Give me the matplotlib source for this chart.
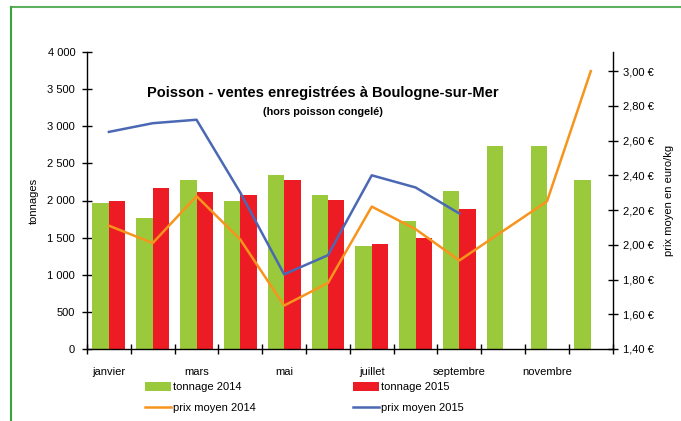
import matplotlib.pyplot as plt
import numpy as np
from matplotlib.ticker import FuncFormatter, FixedLocator

plt.rcParams['font.family'] = ['Liberation Sans', 'DejaVu Sans']
plt.rcParams['font.size'] = 8
plt.rcParams['axes.unicode_minus'] = False

months = ['janvier', 'février', 'mars', 'avril', 'mai', 'juin', 'juillet',
          'août', 'septembre', 'octobre', 'novembre', 'décembre']
tonnage_2014 = [1960, 1770, 2280, 1990, 2350, 2080, 1390, 1720, 2130, 2740, 2740, 2270]
tonnage_2015 = [2000, 2170, 2120, 2070, 2270, 2010, 1420, 1490, 1880]
prix_2014 = [2.11, 2.01, 2.28, 2.03, 1.65, 1.78, 2.22, 2.09, 1.91, 2.08, 2.25, 3.00]
prix_2015 = [2.65, 2.70, 2.72, 2.30, 1.83, 1.94, 2.40, 2.33, 2.18]

c_green = '#9ACA3C'
c_red = '#ED1C24'
c_orange = '#F7941D'
c_blue = '#4A68B4'


def fmt_tonnes(v, pos):
    return f"{int(round(v)):,}".replace(',', '\u00a0')


def fmt_euro(v, pos):
    return f"{v:.2f} €".replace('.', ',')


fig = plt.figure(figsize=(6.81, 4.21), dpi=100)
ax = fig.add_axes([87 / 681, 1 - 349 / 421, (612.7 - 87) / 681, (349 - 52) / 421])

x = np.arange(len(months))
w = 0.375
ax.bar(x - w / 2, tonnage_2014, width=w, color=c_green, label='tonnage 2014', zorder=2)
ax.bar(np.arange(len(tonnage_2015)) + w / 2, tonnage_2015, width=w, color=c_red,
       label='tonnage 2015', zorder=2)

ax.set_xlim(-0.5, len(months) - 0.5)
ax.set_ylim(0, 4000)
ax.set_yticks(np.arange(0, 4001, 500))
ax.yaxis.set_major_formatter(FuncFormatter(fmt_tonnes))
ax.set_ylabel('tonnages', fontsize=8, labelpad=6)

# ticks at month boundaries, labels every other month
ax.xaxis.set_major_locator(FixedLocator(np.arange(-0.5, len(months), 1.0)))
ax.xaxis.set_major_formatter(FuncFormatter(lambda v, p: ''))
ax.xaxis.set_minor_locator(FixedLocator(x[::2]))
ax.set_xticklabels([m for m in months[::2]], minor=True)
ax.tick_params(axis='x', which='minor', length=0, pad=13)
ax.tick_params(axis='x', which='major', direction='inout', length=7, width=1)
ax.tick_params(axis='y', direction='inout', length=7, width=1, pad=5)

for s in ['top', 'right']:
    ax.spines[s].set_visible(False)
ax.spines['left'].set_linewidth(1)
ax.spines['bottom'].set_linewidth(1)

ax2 = ax.twinx()
ax2.plot(x, prix_2014, color=c_orange, lw=1.8, label='prix moyen 2014')
ax2.plot(np.arange(len(prix_2015)), prix_2015, color=c_blue, lw=1.8, label='prix moyen 2015')
ax2.set_ylim(1.40, 3.11)
ax2.set_yticks(np.arange(1.40, 3.01, 0.20))
ax2.yaxis.set_major_formatter(FuncFormatter(fmt_euro))
ax2.tick_params(axis='y', direction='inout', length=7, width=1, pad=4)
ax2.set_ylabel('prix moyen en euro/kg', fontsize=8, labelpad=7)
ax2.spines['top'].set_visible(False)
ax2.spines['left'].set_visible(False)
ax2.spines['bottom'].set_visible(False)
ax2.spines['right'].set_linewidth(1)

fig.text(323 / 681, 1 - 93 / 421, 'Poisson - ventes enregistrées à Boulogne-sur-Mer',
         ha='center', va='center', fontsize=10.5, fontweight='bold')
fig.text(323 / 681, 1 - 112 / 421, '(hors poisson congelé)',
         ha='center', va='center', fontsize=7.8, fontweight='bold')

h1, l1 = ax.get_legend_handles_labels()
h2, l2 = ax2.get_legend_handles_labels()
handles = [h1[0], h2[0], h1[1], h2[1]]
labels = [l1[0], l2[0], l1[1], l2[1]]
fig.legend(handles, labels, ncol=2, loc='upper left',
           bbox_to_anchor=(135 / 681, 1 - 372 / 421), frameon=False,
           handlelength=2.3, handleheight=0.9, handletextpad=0.2,
           columnspacing=8.8, labelspacing=0.9, fontsize=8)

# green frame around the chart
fig.add_artist(plt.Line2D([10.7 / 681, 1], [1 - 7 / 421, 1 - 7 / 421],
                          transform=fig.transFigure, color='#5DB05D', lw=1.5))
fig.add_artist(plt.Line2D([10.7 / 681, 10.7 / 681], [0, 1 - 7 / 421],
                          transform=fig.transFigure, color='#3AA33A', lw=1.5))

fig.savefig('out.png', dpi=100, facecolor='white')
